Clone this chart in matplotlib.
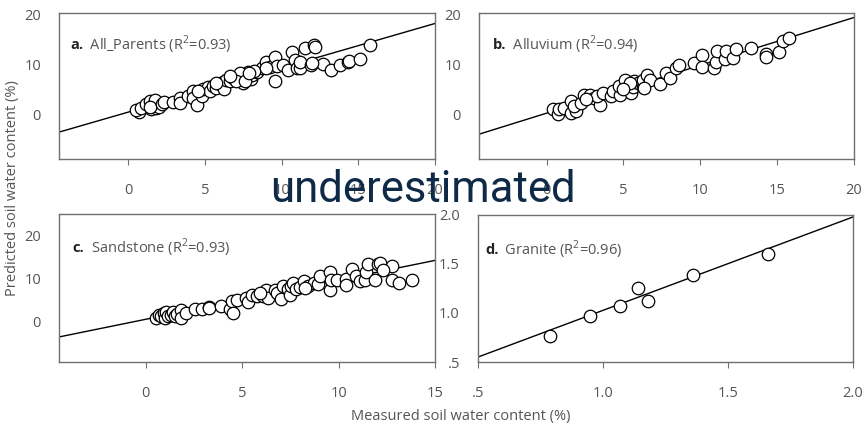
import matplotlib
matplotlib.use('Agg')
import matplotlib.pyplot as plt
import matplotlib.transforms as mtransforms

# panel a: All_Parents
a_x = [0.72, 0.5, 0.87, 1.2, 1.4, 1.5, 1.7, 1.85, 2.0, 1.75, 1.4, 2.2, 2.35, 2.9, 3.4, 3.4,
       3.9, 4.2, 4.25, 4.5, 4.8, 4.85, 5.2, 5.35, 5.55, 5.7, 6.0, 6.2, 6.25, 6.4, 6.65, 6.85,
       7.1, 7.35, 7.5, 7.7, 7.8, 8.0, 8.1, 8.4, 8.7, 9.0, 9.25, 9.6, 9.6, 9.7, 10.1, 10.4,
       10.7, 10.9, 11.0, 11.2, 11.2, 11.5, 11.95, 12.1, 12.2, 12.7, 13.2, 13.8, 14.3, 14.4,
       15.1, 15.75, 12.0, 7.3, 7.0, 5.75, 4.55, 8.2, 7.6, 9.0, 6.65, 7.85]
a_y = [0.46, 0.8, 1.3, 2.0, 2.6, 1.0, 2.0, 1.3, 1.45, 2.8, 1.45, 2.0, 2.5, 2.5, 3.3, 2.3,
       3.6, 4.6, 3.3, 1.8, 3.6, 5.1, 5.4, 4.6, 5.6, 5.3, 6.05, 6.4, 5.1, 6.9, 6.6, 7.2,
       7.4, 7.1, 6.25, 7.8, 8.4, 7.1, 7.8, 8.4, 9.2, 10.5, 9.5, 11.5, 6.7, 9.7, 9.9, 8.9,
       12.5, 10.9, 9.2, 9.2, 10.5, 13.3, 9.9, 13.8, 13.5, 10.0, 8.9, 9.9, 10.4, 10.7,
       11.1, 13.8, 10.2, 8.2, 6.6, 6.2, 4.7, 8.6, 6.6, 9.2, 7.6, 8.2]

# panel b: Alluvium
b_x = [0.43, 0.72, 0.83, 1.15, 1.6, 1.6, 1.9, 1.8, 2.25, 2.4, 2.8, 3.1, 3.45, 3.3, 3.7,
       4.2, 4.3, 4.75, 4.7, 5.1, 5.5, 5.65, 5.7, 5.95, 6.25, 6.25, 6.5, 6.7, 6.35, 7.35,
       7.8, 8.0, 8.45, 8.6, 9.6, 10.1, 10.1, 10.9, 11.0, 11.1, 11.6, 11.7, 12.1, 12.3,
       13.3, 14.3, 14.3, 15.1, 15.4, 15.8, 5.4, 4.95, 2.55]
b_y = [1.0, 0.0, 1.0, 1.2, 2.6, 0.3, 0.65, 1.6, 2.3, 3.75, 3.9, 3.2, 1.85, 3.6, 4.3,
       3.6, 4.6, 3.75, 5.6, 6.9, 4.3, 5.4, 6.6, 6.25, 5.4, 6.9, 7.8, 6.9, 5.3, 6.05,
       8.2, 7.2, 9.2, 9.9, 10.3, 11.8, 9.5, 9.2, 10.5, 12.6, 11.05, 12.6, 11.2, 13.0,
       13.2, 12.0, 11.5, 12.4, 14.6, 15.3, 6.25, 5.1, 2.95]

# panel c: Sandstone
c_x = [0.55, 0.7, 0.8, 0.95, 1.0, 1.05, 1.15, 1.3, 1.4, 1.5, 1.6, 1.85, 1.85, 2.1, 2.55,
       2.9, 3.3, 3.3, 3.9, 4.35, 4.45, 4.5, 4.75, 5.2, 5.3, 5.5, 5.75, 6.1, 6.25, 6.35,
       6.7, 6.8, 7.0, 7.1, 7.35, 7.5, 7.55, 7.65, 7.8, 8.0, 8.2, 8.4, 8.7, 8.95, 9.05,
       9.55, 9.55, 9.6, 9.9, 10.4, 10.4, 10.7, 10.9, 11.1, 11.35, 11.4, 11.55, 11.9,
       12.05, 12.15, 12.75, 12.75, 13.15, 13.8, 12.3, 8.25, 5.9]
c_y = [0.85, 1.6, 1.25, 2.0, 0.85, 2.2, 1.25, 1.6, 2.4, 1.25, 1.85, 2.8, 0.85, 2.0, 2.9,
       2.9, 3.55, 3.2, 3.7, 2.9, 4.9, 2.0, 5.1, 5.5, 4.7, 6.3, 5.9, 5.9, 7.3, 5.5,
       7.45, 6.65, 5.3, 8.4, 7.6, 6.3, 8.4, 9.0, 7.6, 8.1, 9.4, 8.4, 9.0, 8.8, 10.7,
       11.5, 7.3, 9.8, 9.8, 9.9, 8.6, 12.2, 10.7, 9.4, 9.8, 11.5, 13.3, 9.8,
       13.4, 13.6, 13.0, 9.8, 9.0, 9.8, 12.1, 7.8, 6.65]

# panel d: Granite
d_x = [0.79, 0.95, 1.07, 1.14, 1.18, 1.36, 1.66]
d_y = [0.77, 0.97, 1.07, 1.25, 1.12, 1.39, 1.60]

# fitted lines (slope, intercept)
fits = {'a': (0.89, 0.4), 'b': (0.96, 0.2), 'c': (0.91, 0.6), 'd': (0.953, 0.074)}

titles = {'a': ('a.', ' All_Parents (R$^{2}$=0.93)'),
          'b': ('b.', ' Alluvium (R$^{2}$=0.94)'),
          'c': ('c.', ' Sandstone (R$^{2}$=0.93)'),
          'd': ('d.', ' Granite (R$^{2}$=0.96)')}

plt.rcParams['font.family'] = ['Open Sans', 'DejaVu Sans']
plt.rcParams['mathtext.fontset'] = 'custom'
plt.rcParams['mathtext.rm'] = 'Open Sans'

gray = '#555555'
spine = '#707070'

fig = plt.figure(figsize=(8.64, 4.28), dpi=100)

def makePanel(rect, key, xs, ys, xlim, ylim, xticks, yticks, tlabels=None, txtpos=(0.03, 0.78)):
    ax = fig.add_axes(rect)
    ax.set_xlim(xlim)
    ax.set_ylim(ylim)
    m, b = fits[key]
    ax.plot(xlim, [m * xlim[0] + b, m * xlim[1] + b], color='black', lw=1.0, zorder=2)
    ax.plot(xs, ys, 'o', ms=9, mfc='white', mec='black', mew=0.9, zorder=3, clip_on=False)
    ax.set_xticks(xticks)
    ax.set_yticks(yticks)
    if tlabels:
        ax.set_xticklabels(tlabels)
        ax.set_yticklabels(tlabels)
    ax.tick_params(axis='x', direction='out', length=4, pad=13, labelsize=10.5, colors=gray, color=spine)
    ax.tick_params(axis='y', direction='out', length=0, pad=13, labelsize=10.5, colors=gray)
    for s in ax.spines.values():
        s.set_color(spine)
        s.set_linewidth(1.0)
    ax.text(txtpos[0], txtpos[1], titles[key][0], transform=ax.transAxes, fontsize=10.5,
            fontweight='bold', color='#222222', va='center')
    off = mtransforms.offset_copy(ax.transAxes, fig=fig, x=11.5, y=0, units='points')
    ax.text(txtpos[0], txtpos[1], titles[key][1], transform=off, fontsize=10.5,
            color=gray, va='center')
    return ax

makePanel([0.0683, 0.6285, 0.4352, 0.3411], 'a', a_x, a_y, (-4.5, 20), (-9.0, 20.3),
          [0, 5, 10, 15, 20], [0, 10, 20])
makePanel([0.5544, 0.6285, 0.4340, 0.3411], 'b', b_x, b_y, (-4.4, 20), (-9.0, 20.3),
          [0, 5, 10, 15, 20], [0, 10, 20], txtpos=(0.037, 0.78))
makePanel([0.0683, 0.1542, 0.4352, 0.3458], 'c', c_x, c_y, (-4.5, 15), (-9.3, 25),
          [0, 5, 10, 15], [0, 10, 20], txtpos=(0.035, 0.77))
makePanel([0.5532, 0.1542, 0.4341, 0.3435], 'd', d_x, d_y, (0.5, 2.0), (0.5, 2.0),
          [0.5, 1.0, 1.5, 2.0], [0.5, 1.0, 1.5, 2.0], tlabels=['.5', '1.0', '1.5', '2.0'],
          txtpos=(0.02, 0.76))

fig.text(0.015, 0.56, 'Predicted soil water content (%)', rotation=90, ha='center', va='center',
         fontsize=10.5, color=gray)
fig.text(0.533, 0.028, 'Measured soil water content (%)', ha='center', va='center',
         fontsize=10.5, color=gray)

fig.text(0.49, 0.555, 'underestimated', ha='center', va='center', fontsize=31.5,
         color='#0f2a47', family=['Roboto', 'DejaVu Sans'], zorder=10)

fig.savefig('out.png', dpi=100)
